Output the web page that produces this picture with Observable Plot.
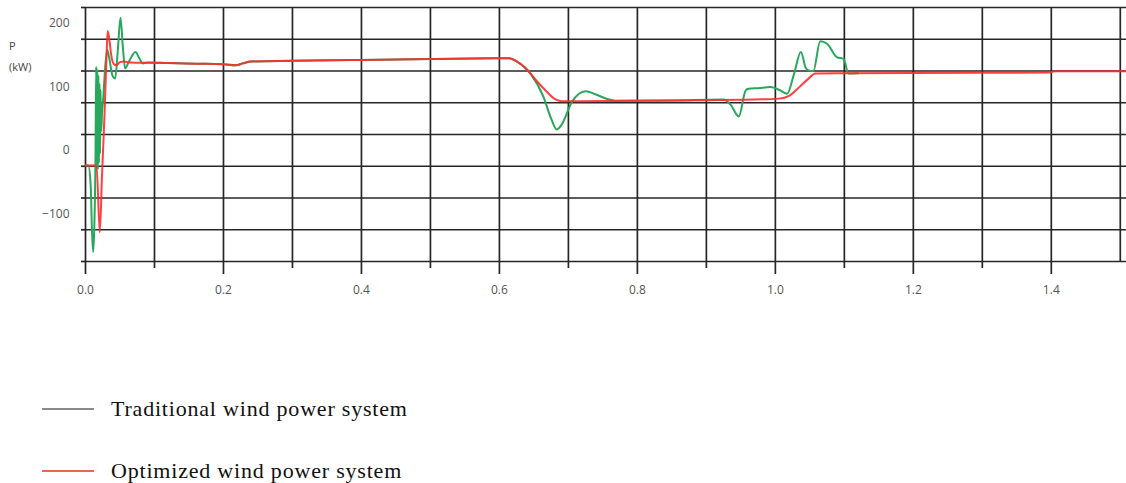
<!DOCTYPE html>
<html>
<head>
<meta charset="utf-8">
<script src="https://cdn.jsdelivr.net/npm/d3@7"></script>
<script src="https://cdn.jsdelivr.net/npm/@observablehq/plot@0.6"></script>
<style>
  html, body { margin: 0; padding: 0; background: #fff; }
  #wrap { position: relative; width: 1126px; height: 483px; overflow: hidden; }
  #chart { position: absolute; left: 0; top: 0; }
  .ylab { position: absolute; font-family: "Open Sans", sans-serif; font-size: 11px; color: #444; }
  .leg { position: absolute; left: 42px; display: flex; align-items: center; font-family: "Liberation Serif", "Times New Roman", serif; font-size: 22px; letter-spacing: 0.8px; color: #111; }
  .leg .sw { width: 52px; height: 2px; margin-right: 17px; }
</style>
</head>
<body>
<div id="wrap">
  <div id="chart"></div>
  <div class="ylab" style="left:9px; top:38px;">P</div>
  <div class="ylab" style="left:9px; top:59px;">(kW)</div>
  <div class="leg" style="top:396px;"><div class="sw" style="background:#8a8a8a;"></div><span>Traditional wind power system</span></div>
  <div class="leg" style="top:458px;"><div class="sw" style="background:#ee6650;"></div><span>Optimized wind power system</span></div>
</div>
<script>
// Time (s) and power (kW)
const tradT = [0, 0.004, 0.0075, 0.0095, 0.0111, 0.0128, 0.0145, 0.0155, 0.0163, 0.0171, 0.0179, 0.0187, 0.0195, 0.0203, 0.0211, 0.0219, 0.0227, 0.024, 0.0255, 0.0285, 0.0315, 0.0345, 0.039, 0.043, 0.047, 0.0507, 0.054, 0.0574, 0.063, 0.0725, 0.078, 0.083, 0.09, 0.12, 0.16, 0.2, 0.218, 0.228, 0.24, 0.3, 0.4, 0.5, 0.6, 0.614, 0.625, 0.645, 0.664, 0.675, 0.683, 0.69, 0.705, 0.725, 0.74, 0.756, 0.77, 0.85, 0.925, 0.935, 0.947, 0.957, 0.961, 0.975, 0.993, 1.007, 1.017, 1.027, 1.037, 1.044, 1.048, 1.055, 1.065, 1.075, 1.089, 1.099, 1.106, 1.12];
const tradP = [-24, -24, -55, -130, -160, -120, -10, 132, -25, 128, -30, 118, -20, 105, -5, 95, 30, 60, 79, 130, 158, 145, 118, 113, 160, 209, 165, 129, 140, 155, 145, 137, 138.5, 137.5, 136.5, 135.5, 134, 137, 140, 141, 142.5, 144, 145, 145, 140, 121, 84, 50, 33, 40, 76, 93, 88, 81, 78, 78.5, 80, 72, 53.5, 94.5, 97, 98, 99.7, 94.5, 89, 120, 155, 130, 126, 125, 172, 168, 147, 144, 121, 121.5];
const optT = [0, 0.016, 0.0207, 0.024, 0.028, 0.0305, 0.0322, 0.0345, 0.037, 0.041, 0.045, 0.05, 0.055, 0.065, 0.09, 0.12, 0.16, 0.2, 0.218, 0.228, 0.24, 0.3, 0.4, 0.5, 0.6, 0.614, 0.625, 0.64, 0.655, 0.669, 0.68, 0.69, 0.72, 0.8, 0.9, 0.98, 1.005, 1.02, 1.035, 1.048, 1.058, 1.1, 1.2, 1.395, 1.405, 1.509];
const optP = [-24, -24, -129, -38, 69, 150, 188, 175, 152, 136, 134, 139, 140, 138.5, 138, 137.5, 136.5, 135.5, 134, 137, 140, 141, 142.5, 144, 145, 145, 140, 127, 108, 92, 81, 77.5, 77.5, 78, 79, 80.5, 81.5, 86, 100, 113, 121, 121.5, 122, 122.5, 124.6, 124.6];

const xMajor = [0, 0.2, 0.4, 0.6, 0.8, 1.0, 1.2, 1.4];
const xMinor = [0.1, 0.3, 0.5, 0.7, 0.9, 1.1, 1.3];
const xGrid = [0.1, 0.2, 0.3, 0.4, 0.5, 0.6, 0.7, 0.8, 0.9, 1.0, 1.1, 1.2, 1.3, 1.4, 1.5];
const yGrid = [-175, -125, -75, -25, 25, 75, 125, 175, 225];
const yLabels = [200, 100, 0, -100];

const trad = tradT.map((t, i) => ({t, p: tradP[i]}));
const opt = optT.map((t, i) => ({t, p: optP[i]}));

const gridColor = "#262626";

const chart = Plot.plot({
  width: 1126,
  height: 305,
  marginTop: 7,
  marginBottom: 44,
  marginLeft: 85,
  marginRight: 0,
  style: { fontFamily: "'Open Sans', sans-serif", fontSize: "12px", background: "white", overflow: "visible" },
  x: { domain: [0, 1.509], label: null },
  y: { domain: [-175, 225], label: null },
  marks: [
    Plot.ruleY(yGrid, { stroke: gridColor, strokeWidth: 1.7 }),
    Plot.ruleX(xGrid, { stroke: gridColor, strokeWidth: 1.7 }),
    Plot.ruleX([0], { stroke: gridColor, strokeWidth: 1.7 }),
    Plot.axisY({ ticks: yGrid, tickSize: 4, tickFormat: () => "", label: null, stroke: gridColor, strokeWidth: 1.7 }),
    Plot.axisY({ ticks: yLabels, tickSize: 0, tickPadding: 16, label: null, fill: "#555", tickFormat: d => d < 0 ? "\u2212" + Math.abs(d) : String(d) }),
    Plot.axisX({ ticks: xMajor, tickSize: 13, tickPadding: 11, label: null, fill: "#555", stroke: gridColor, strokeWidth: 1.7, tickFormat: d => d.toFixed(1) }),
    Plot.axisX({ ticks: xMinor, tickSize: 7, label: null, tickFormat: () => "", stroke: gridColor, strokeWidth: 1.7 }),
    Plot.line(trad, { x: "t", y: "p", stroke: "#27a85a", strokeWidth: 2, curve: "monotone-x" }),
    Plot.line(opt, { x: "t", y: "p", stroke: "#ff2b2b", strokeWidth: 2, strokeOpacity: 0.9, curve: "monotone-x" })
  ]
});
document.getElementById("chart").appendChild(chart);
</script>
</body>
</html>
